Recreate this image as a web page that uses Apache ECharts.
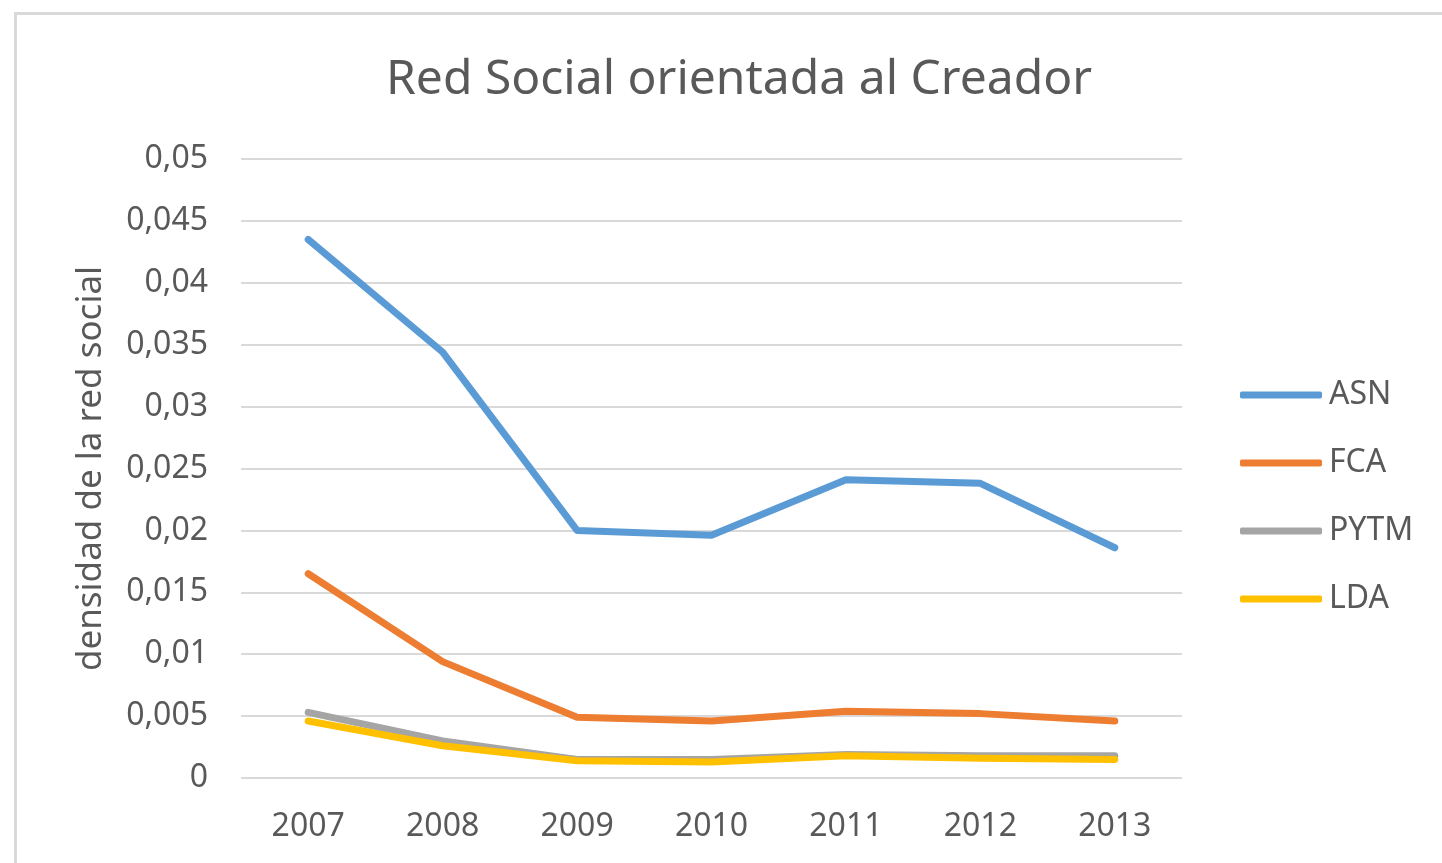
<!DOCTYPE html>
<html>
<head>
<meta charset="utf-8">
<script src="https://cdn.jsdelivr.net/npm/echarts@6/dist/echarts.min.js"></script>
<style>
    body { margin: 0; background: #fff; }
    #frame {
        position: absolute; left: 14px; top: 12px; right: -10px; bottom: -10px;
        border-left: 3px solid #d9d9d9; border-top: 3px solid #d9d9d9;
    }
    #chart { position: absolute; left: 0; top: 0; width: 1442px; height: 863px; }
</style>
</head>
<body>
<div id="frame"></div>
<div id="chart"></div>
<script>
const years = ['2007', '2008', '2009', '2010', '2011', '2012', '2013'];
const asn = [0.0435, 0.0344, 0.0200, 0.0196, 0.0241, 0.0238, 0.0186];
const fca = [0.0165, 0.0094, 0.0049, 0.0046, 0.0054, 0.0052, 0.0046];
const pytm = [0.0053, 0.0030, 0.0015, 0.0015, 0.0019, 0.0018, 0.0018];
const lda = [0.0046, 0.0026, 0.0014, 0.0013, 0.0018, 0.0016, 0.0015];

const font = '"Noto Sans", sans-serif';
const textColor = '#595959';

function line(name, data, color) {
    return {
        name: name,
        type: 'line',
        data: data,
        symbol: 'none',
        itemStyle: { color: color },
        lineStyle: { color: color, width: 7, cap: 'round', join: 'round' }
    };
}

let chart = echarts.init(document.getElementById('chart'));
const option = {
    animation: false,
    title: {
        text: 'Red Social orientada al Creador',
        left: 381,
        top: 51,
        textStyle: { fontFamily: font, fontSize: 48, fontWeight: 'normal', color: textColor }
    },
    legend: {
        orient: 'vertical',
        left: 1235,
        top: 374,
        itemWidth: 82,
        itemHeight: 7,
        itemGap: 36,
        icon: 'roundRect',
        textStyle: { fontFamily: font, fontSize: 32, color: textColor, lineHeight: 32, padding: [0, 0, 0, 2] },
        data: ['ASN', 'FCA', 'PYTM', 'LDA']
    },
    grid: { left: 241, right: 260, top: 159, bottom: 85 },
    xAxis: {
        type: 'category',
        data: years,
        axisLine: { show: false },
        axisTick: { show: false },
        axisLabel: { fontFamily: font, fontSize: 32, color: textColor, margin: 33 }
    },
    yAxis: {
        type: 'value',
        min: 0,
        max: 0.05,
        interval: 0.005,
        name: 'densidad de la red social',
        nameLocation: 'middle',
        nameGap: 132,
        nameTextStyle: { fontFamily: font, fontSize: 35, color: textColor },
        axisLine: { show: false },
        axisTick: { show: false },
        axisLabel: {
            fontFamily: font, fontSize: 32, color: textColor, margin: 33,
            formatter: function (v) { return String(parseFloat(v.toFixed(3))).replace('.', ','); }
        },
        splitLine: { lineStyle: { color: '#d9d9d9', width: 2 } }
    },
    series: [
        line('ASN', asn, '#5b9bd5'),
        line('FCA', fca, '#ed7d31'),
        line('PYTM', pytm, '#a5a5a5'),
        line('LDA', lda, '#ffc000')
    ]
};
chart.setOption(option);
window.addEventListener('resize', function () { chart.resize(); });
</script>
</body>
</html>
